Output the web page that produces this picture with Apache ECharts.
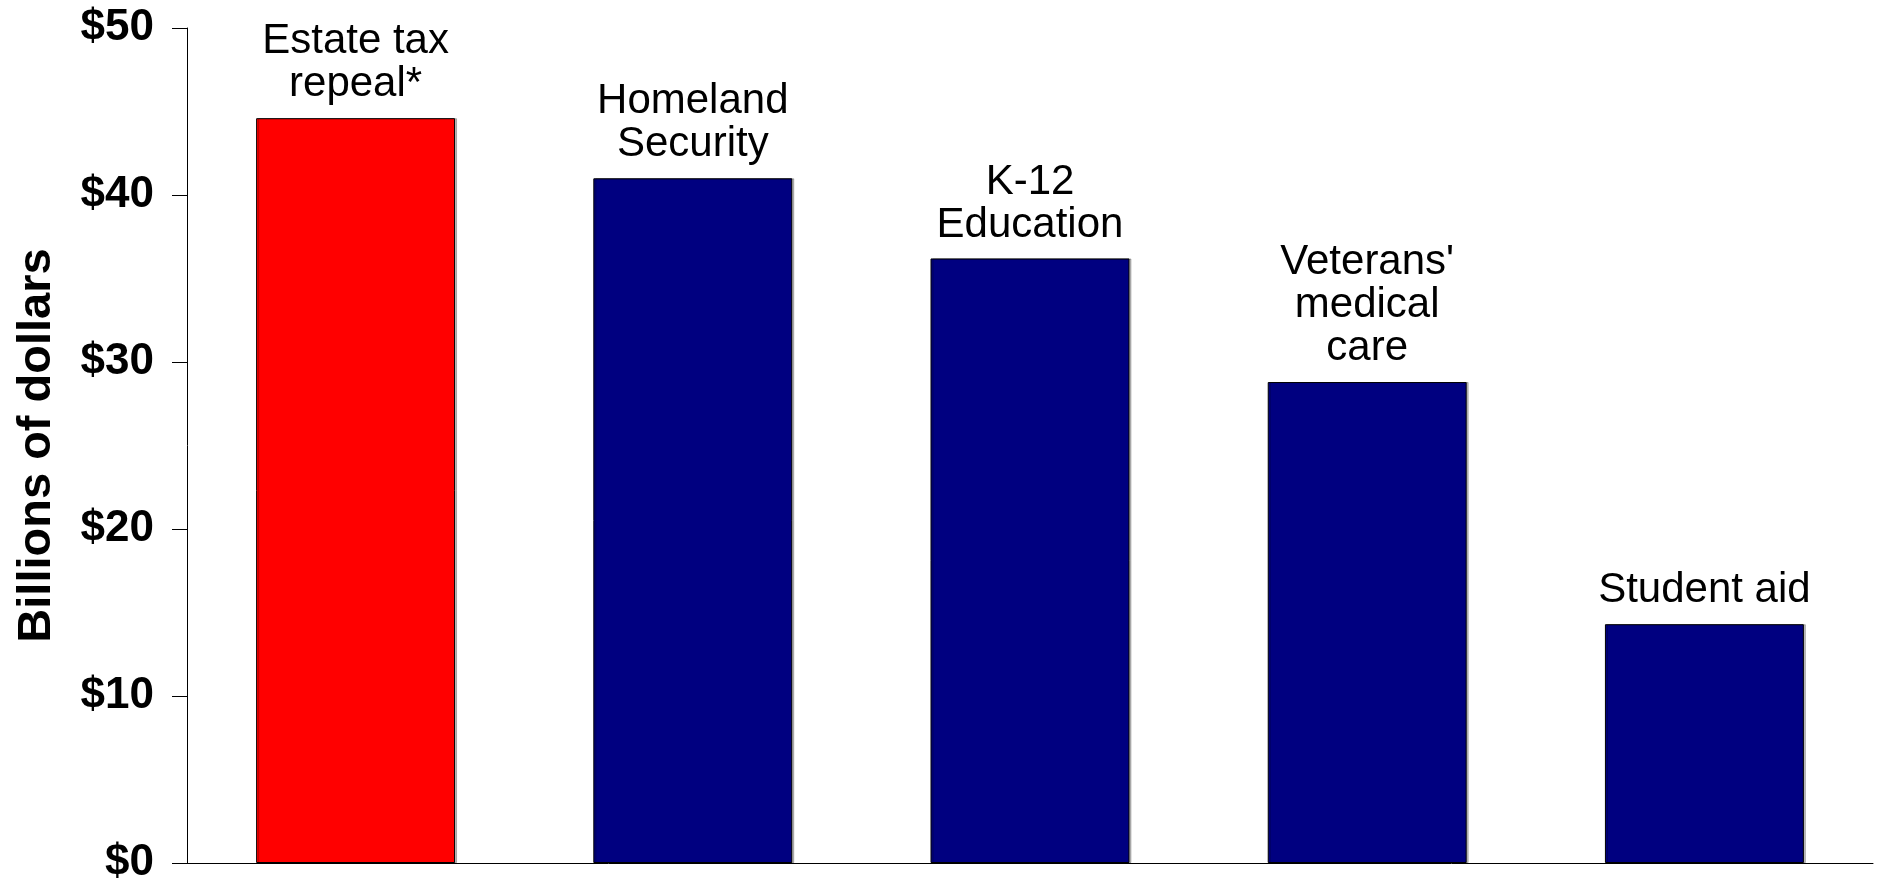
<!DOCTYPE html>
<html>
<head>
<meta charset="utf-8">
<script src="https://cdn.jsdelivr.net/npm/echarts@6/dist/echarts.min.js"></script>
<style>
html,body{margin:0;padding:0;background:#fff;}
#chart{width:1877px;height:885px;}
</style>
</head>
<body>
<div id="chart"></div>
<script>
const categories = ["Estate tax\nrepeal*", "Homeland\nSecurity", "K-12\nEducation", "Veterans'\nmedical\ncare", "Student aid"];
const values = [44.6, 41.0, 36.2, 28.8, 14.3];
const barColors = ["#FF0000", "#000080", "#000080", "#000080", "#000080"];
const yTicks = [0, 10, 20, 30, 40, 50];

const chart = echarts.init(document.getElementById('chart'));
const FONT = '"Liberation Sans", Arial, sans-serif';
chart.setOption({
  animation: false,
  backgroundColor: '#fff',
  grid: {left: 187, right: 4, top: 28, bottom: 18, containLabel: false},
  xAxis: {
    type: 'category',
    data: categories,
    axisLine: {lineStyle: {color: '#000', width: 1}},
    axisTick: {show: false},
    axisLabel: {show: false}
  },
  yAxis: {
    type: 'value',
    min: yTicks[0],
    max: yTicks[yTicks.length - 1],
    interval: 10,
    name: 'Billions of dollars',
    nameLocation: 'middle',
    nameRotate: 90,
    nameGap: 126,
    nameTextStyle: {fontFamily: FONT, fontWeight: 'bold', fontSize: 47, color: '#000'},
    axisLine: {show: true, lineStyle: {color: '#000', width: 1}},
    axisTick: {show: true, length: 15, lineStyle: {color: '#000', width: 1}},
    splitLine: {show: false},
    axisLabel: {
      margin: 33,
      fontFamily: FONT, fontWeight: 'bold', fontSize: 44, color: '#000',
      formatter: v => '$' + v
    }
  },
  series: [{
    type: 'bar',
    barCategoryGap: '41%',
    data: values.map((v, i) => ({value: v, itemStyle: {color: barColors[i]}})),
    itemStyle: {borderColor: '#000', borderWidth: 1, shadowColor: 'rgba(0,0,0,0.25)', shadowOffsetX: 2, shadowOffsetY: 0, shadowBlur: 0},
    label: {
      show: true,
      position: 'top',
      distance: 12,
      formatter: '{b}',
      fontFamily: FONT, fontSize: 42, lineHeight: 43, color: '#000', align: 'center'
    }
  }]
});
</script>
</body>
</html>
